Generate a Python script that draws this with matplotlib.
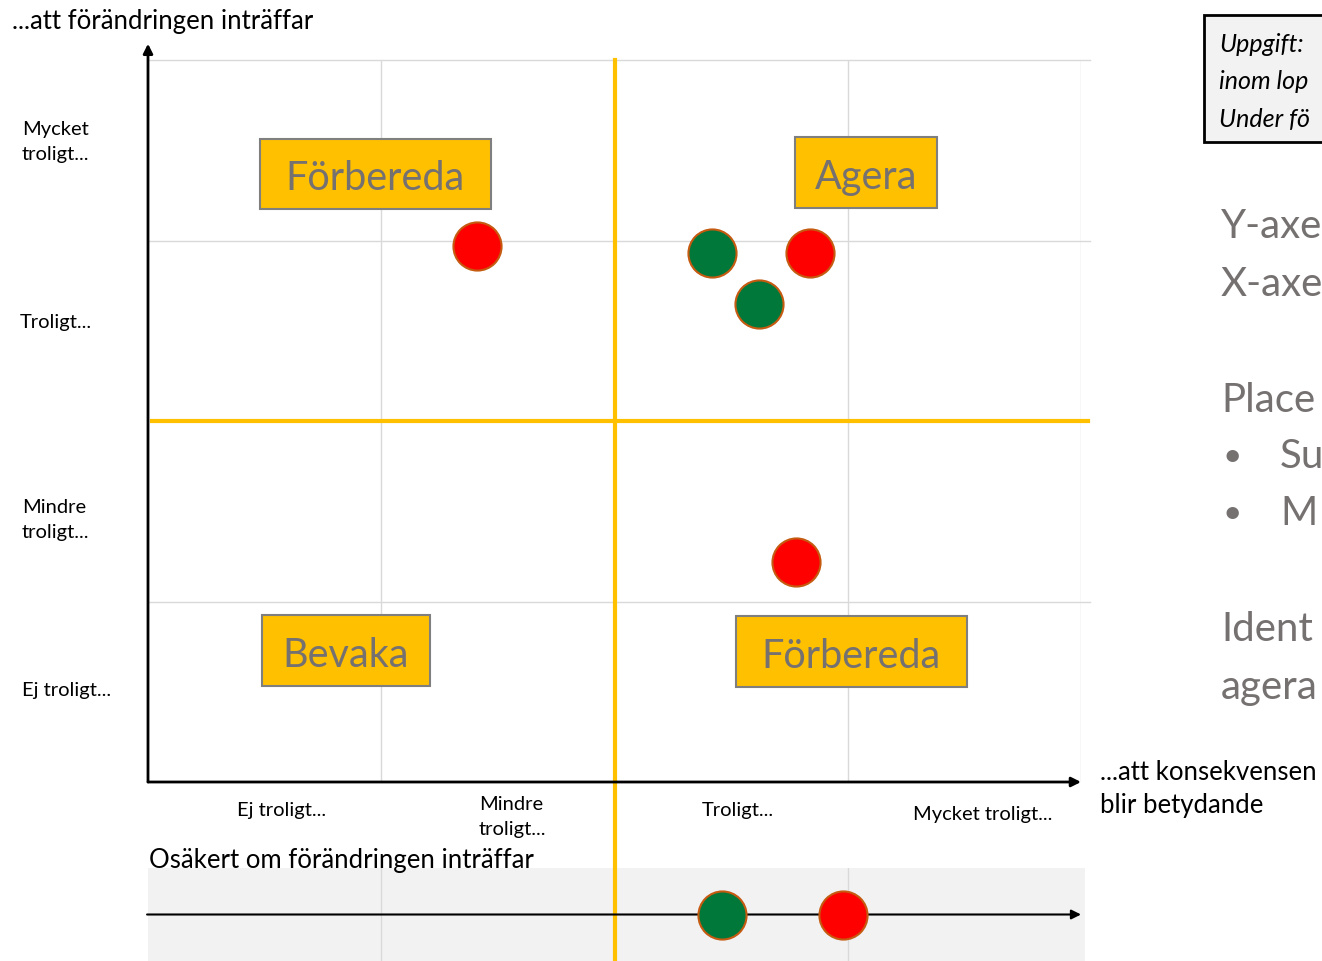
import matplotlib.pyplot as plt
from matplotlib.patches import Rectangle

W, H = 1322, 962
plt.rcParams['font.family'] = ['Lato', 'DejaVu Sans']

# data: scale 0..4 on both axes (Ej troligt, Mindre troligt, Troligt, Mycket troligt)
y_labels = ["Mycket\ntroligt...", "Troligt...", "Mindre\ntroligt...", "Ej troligt..."]
x_labels = ["Ej troligt...", "Mindre\ntroligt...", "Troligt...", "Mycket troligt..."]
quad_labels = ["Förbereda", "Agera", "Bevaka", "Förbereda"]

red_x = [1.41, 2.84, 2.78]
red_y = [2.97, 2.93, 1.22]
green_x = [2.42, 2.62]
green_y = [2.93, 2.65]

# osäkert om förändringen inträffar (only consequence axis)
unc_red_x = [2.98]
unc_green_x = [2.46]

# text on the right, cut off by the slide edge
task_lines = ["Uppgift:", "inom lop", "Under fö"]
side_lines = ["Y-axe", "X-axe", "Place", "Su", "M", "Ident", "agera"]

RED = '#FF0000'
GREEN = '#00783A'
EDGE = '#C55A11'
YELLOW = '#FFC000'
GRID = '#D9D9D9'
GRAYTXT = '#767171'


def fx(px):
    return px / W


def fy(py):
    return 1 - py / H


fig = plt.figure(figsize=(W / 100, H / 100), dpi=100)

# ---------------- main matrix ----------------
ax = fig.add_axes([fx(148), fy(783), (1081 - 148) / W, (783 - 61) / H])
ax.set_xlim(0, 4)
ax.set_ylim(0, 4)
ax.axis('off')

for gx in [1, 3, 4]:
    ax.plot([gx, gx], [0, 4], color=GRID, lw=1, zorder=1)
for gy in [1, 3, 4]:
    ax.plot([0, 4.04], [gy, gy], color=GRID, lw=1, zorder=1, clip_on=False)

ax.axvline(2, ymin=-0.248, ymax=1, color=YELLOW, lw=3, clip_on=False, zorder=2)
ax.plot([0.017, 4.03], [2, 2], color=YELLOW, lw=3, clip_on=False, zorder=2)

ax.annotate('', xy=(0, 4.09), xytext=(0, 0), annotation_clip=False,
            arrowprops=dict(arrowstyle='-|>', color='black', lw=2, mutation_scale=14,
                            shrinkA=0, shrinkB=0))
ax.annotate('', xy=(4.0, 0), xytext=(0, 0), annotation_clip=False,
            arrowprops=dict(arrowstyle='-|>', color='black', lw=2, mutation_scale=14,
                            shrinkA=0, shrinkB=0))

# quadrant boxes (center x, center y, width, height in data units)
boxes = [(0.975, 3.37, 0.99, 0.39), (3.078, 3.377, 0.61, 0.39),
         (0.849, 0.729, 0.72, 0.39), (3.016, 0.723, 0.99, 0.39)]
for lab, (cx, cy, bw, bh) in zip(quad_labels, boxes):
    ax.add_patch(Rectangle((cx - bw / 2, cy - bh / 2), bw, bh, facecolor=YELLOW,
                           edgecolor='#7F7F7F', lw=1.5, zorder=3))
    ax.text(cx, cy - 0.02, lab, ha='center', va='center', fontsize=28.5,
            color=GRAYTXT, zorder=4)

ax.scatter(red_x, red_y, s=1200, c=RED, edgecolors=EDGE, linewidths=1.5, zorder=5)
ax.scatter(green_x, green_y, s=1200, c=GREEN, edgecolors=EDGE, linewidths=1.5, zorder=5)

# ---------------- uncertain strip ----------------
sx = fig.add_axes([fx(148), fy(962), (1085 - 148) / W, (962 - 869) / H])
sx.set_facecolor('#F2F2F2')
sx.set_xlim(0, 937 / 233.25)
sx.set_ylim(-1, 1)
for s in sx.spines.values():
    s.set_visible(False)
sx.set_xticks([])
sx.set_yticks([])
for gx in [1, 3]:
    sx.axvline(gx, color=GRID, lw=1, zorder=1)
sx.axvline(2, color=YELLOW, lw=3, zorder=2)
sx.annotate('', xy=(4.0, 0), xytext=(-0.004, 0), annotation_clip=False,
            arrowprops=dict(arrowstyle='-|>', color='black', lw=1.5, mutation_scale=14,
                            shrinkA=0, shrinkB=0))
sx.scatter(unc_green_x, [0] * len(unc_green_x), s=1200, c=GREEN, edgecolors=EDGE,
           linewidths=1.5, zorder=5, clip_on=False)
sx.scatter(unc_red_x, [0] * len(unc_red_x), s=1200, c=RED, edgecolors=EDGE,
           linewidths=1.5, zorder=5, clip_on=False)

# ---------------- texts ----------------
fig.text(fx(12), fy(22), "...att förändringen inträffar", fontsize=18.5, va='center')
y_pos = [(22, 142), (20, 323), (22, 520), (22, 691)]
for lab, (px, py) in zip(y_labels, y_pos):
    fig.text(fx(px), fy(py), lab, fontsize=14.5, va='center', linespacing=1.6)
x_pos = [(282, 811, 'center'), (479, 817, 'left'), (738, 811, 'center'), (983, 815, 'center')]
for lab, (px, py, ha) in zip(x_labels, x_pos):
    fig.text(fx(px), fy(py), lab, fontsize=14.5, va='center', ha=ha, linespacing=1.55)
fig.text(fx(149), fy(861), "Osäkert om förändringen inträffar", fontsize=18.5, va='center')
fig.text(fx(1100), fy(789), "...att konsekvensen\nblir betydande", fontsize=18.5,
         va='center', linespacing=1.4)

# right panel (cut off at slide edge)
fig.patches.append(Rectangle((fx(1204), fy(143)), fx(130), (143 - 16) / H,
                             transform=fig.transFigure, facecolor='#F2F2F2',
                             edgecolor='black', lw=2))
for i, line in enumerate(task_lines):
    fig.text(fx(1219), fy(45 + 37 * i), line, fontsize=18, style='italic', va='center')

side_pos = [(1221, 227), (1221, 285), (1221, 400), (1280, 457), (1280, 514),
            (1221, 630), (1221, 688)]
for t, (px, py) in zip(side_lines, side_pos):
    fig.text(fx(px), fy(py), t, fontsize=29, color=GRAYTXT, va='center')
for py in [457, 514]:
    fig.text(fx(1222), fy(py), "•", fontsize=24, color=GRAYTXT, va='center')

fig.savefig('out.png', dpi=100)
